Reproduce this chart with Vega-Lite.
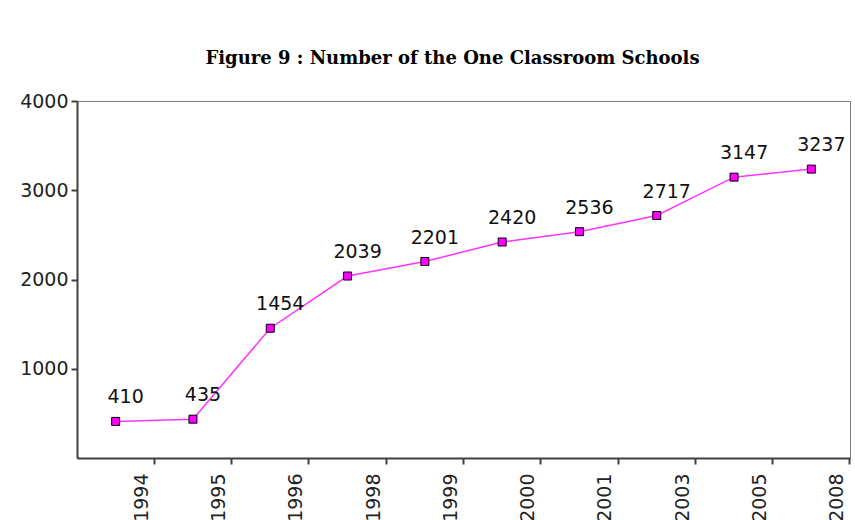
{
  "$schema": "https://vega.github.io/schema/vega-lite/v6.json",
  "width": 773,
  "height": 357,
  "autosize": {"type": "none"},
  "padding": {"left": 77, "top": 101, "right": 5, "bottom": 62},
  "background": "white",
  "title": {
    "text": "Figure 9 : Number of the One Classroom Schools",
    "font": "DejaVu Serif",
    "fontSize": 18,
    "fontWeight": "bold",
    "color": "black",
    "anchor": "middle",
    "baseline": "alphabetic",
    "offset": 10,
    "dx": -11
  },
  "config": {
    "view": {"stroke": "#808080", "strokeWidth": 1},
    "axis": {
      "domainColor": "#404040",
      "domainWidth": 2,
      "tickColor": "#404040",
      "tickWidth": 2,
      "tickSize": 6,
      "labelFont": "DejaVu Sans",
      "labelFontSize": 19,
      "labelColor": "#222222",
      "grid": false,
      "title": null
    }
  },
  "data": {
    "values": [
      {"year": "1994", "schools": 410},
      {"year": "1995", "schools": 435},
      {"year": "1996", "schools": 1454},
      {"year": "1998", "schools": 2039},
      {"year": "1999", "schools": 2201},
      {"year": "2000", "schools": 2420},
      {"year": "2001", "schools": 2536},
      {"year": "2003", "schools": 2717},
      {"year": "2005", "schools": 3147},
      {"year": "2008", "schools": 3237}
    ]
  },
  "encoding": {
    "x": {
      "field": "year",
      "type": "nominal",
      "sort": null,
      "scale": {"type": "band", "paddingInner": 0, "paddingOuter": 0},
      "axis": {
        "bandPosition": 1,
        "labelAngle": -90,
        "labelAlign": "right",
        "labelBaseline": "middle",
        "labelOffset": 26,
        "labelPadding": 9,
        "title": null
      }
    },
    "y": {
      "field": "schools",
      "type": "quantitative",
      "scale": {"domain": [0, 4000]},
      "axis": {"values": [1000, 2000, 3000, 4000], "format": "d", "title": null, "labelPadding": 3}
    }
  },
  "layer": [
    {"mark": {"type": "line", "color": "#FF33FF", "strokeWidth": 1.5}},
    {"mark": {"type": "square", "size": 64, "fill": "#FF00FF", "stroke": "#000000", "strokeWidth": 1, "opacity": 1}},
    {
      "mark": {"type": "text", "dx": 10, "dy": -18, "baseline": "alphabetic", "font": "DejaVu Sans", "fontSize": 19, "color": "#111111"},
      "encoding": {"text": {"field": "schools", "type": "quantitative", "format": "d"}}
    }
  ]
}
